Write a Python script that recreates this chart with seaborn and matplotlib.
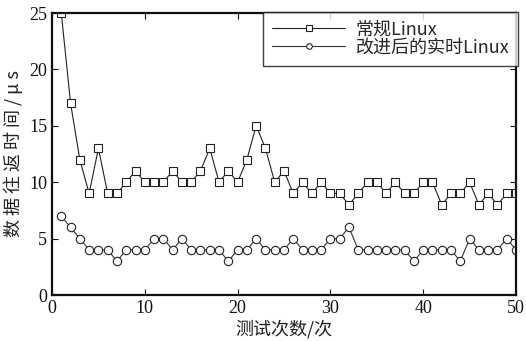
import numpy as np
import pandas as pd
import matplotlib.pyplot as plt
import seaborn as sns

# Chart data
runs = list(range(1, 51))
normal_linux = [25, 17, 12, 9, 13, 9, 9, 10, 11, 10,
                10, 10, 11, 10, 10, 11, 13, 10, 11, 10,
                12, 15, 13, 10, 11, 9, 10, 9, 10, 9,
                9, 8, 9, 10, 10, 9, 10, 9, 9, 10,
                10, 8, 9, 9, 10, 8, 9, 8, 9, 9]
rt_linux = [7, 6, 5, 4, 4, 4, 3, 4, 4, 4,
            5, 5, 4, 5, 4, 4, 4, 4, 3, 4,
            4, 5, 4, 4, 4, 5, 4, 4, 4, 5,
            5, 6, 4, 4, 4, 4, 4, 4, 3, 4,
            4, 4, 4, 3, 5, 4, 4, 4, 5, 4]
series_names = ["常规Linux", "改进后的实时Linux"]
x_ticks = [0, 10, 20, 30, 40, 50]
y_ticks = [0, 5, 10, 15, 20, 25]

df = pd.DataFrame({
    "run": runs * 2,
    "time": normal_linux + rt_linux,
    "system": [series_names[0]] * len(runs) + [series_names[1]] * len(runs),
})

sns.set_style("ticks")
plt.rcParams['font.family'] = ['Liberation Serif', 'Noto Sans CJK SC']
cjk = ['Noto Sans CJK SC', 'DejaVu Sans']

fig = plt.figure(figsize=(5.26, 3.41), dpi=100)
ax = fig.add_axes([52 / 526, 1 - 295 / 341, 464 / 526, 282 / 341])

sns.lineplot(data=df, x="run", y="time", hue="system", style="system",
             markers=["s", "o"], dashes=False, palette=["#222222", "#333333"],
             linewidth=0.8, markersize=6, markerfacecolor="white",
             markeredgecolor="#222222", markeredgewidth=0.8, ax=ax)

ax.set_xlim(0, 50)
ax.set_ylim(0, 25)
ax.set_xticks(x_ticks)
ax.set_yticks(y_ticks)
ax.tick_params(direction="in", top=True, right=True, length=4, labelsize=13,
               colors="#111111")
for s in ax.spines.values():
    s.set_linewidth(1.6)
    s.set_color("#111111")

ax.set_xlabel("测试次数/次", family=cjk, fontsize=13, color="#222222",
              labelpad=2)
ax.set_ylabel("数 据 往 返 时 间 / μ s", family=cjk, fontsize=13,
              color="#222222", labelpad=4)

leg = ax.legend(loc="upper right", bbox_to_anchor=(1.005, 1.005),
                frameon=True, fancybox=False, edgecolor="#111111",
                prop={"family": cjk, "size": 13}, handlelength=4.0,
                handletextpad=0.6, borderpad=0.5, labelspacing=0.0,
                borderaxespad=0)
leg.get_frame().set_linewidth(1.0)
for h in leg.legend_handles:
    h.set_markersize(4)

fig.savefig("out.png", dpi=100)
